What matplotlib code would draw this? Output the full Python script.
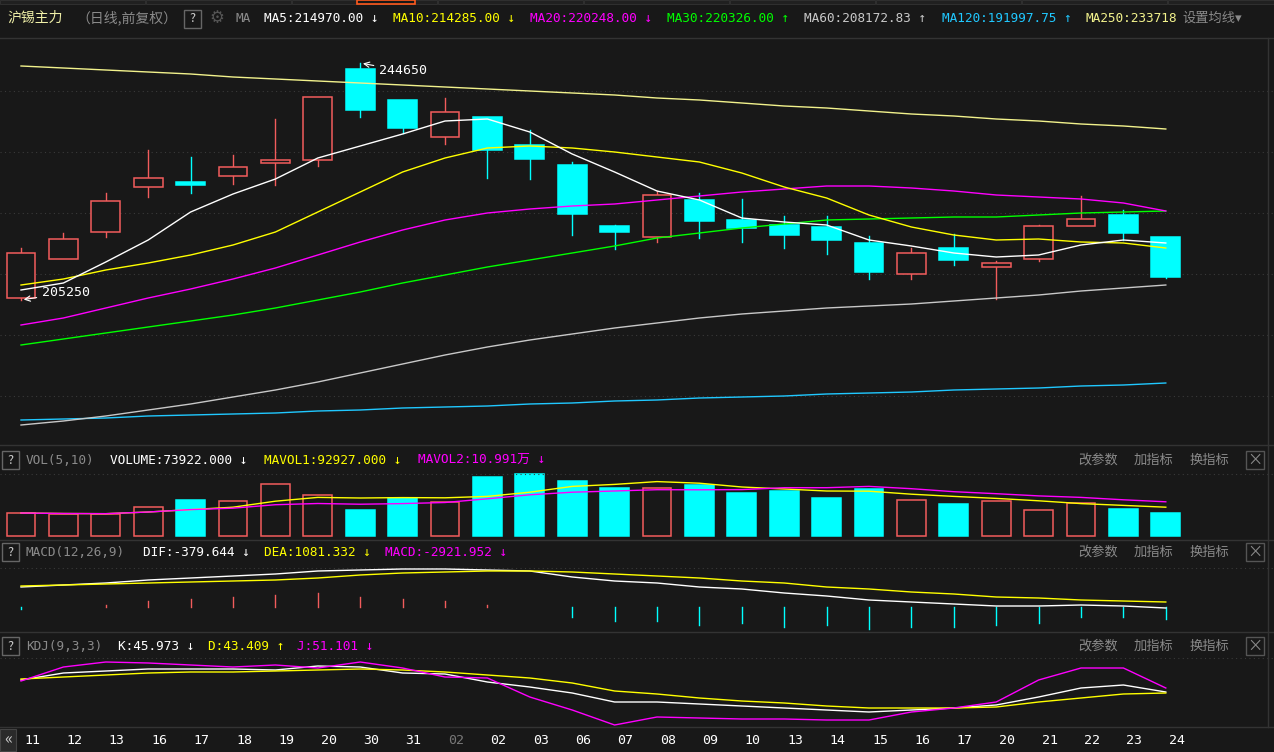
import numpy as np
import pandas as pd
import matplotlib
matplotlib.use('Agg')
import matplotlib.pyplot as plt
from matplotlib.patches import Rectangle

plt.rcParams['font.family'] = ['Noto Sans CJK SC', 'DejaVu Sans']

BG = '#181818'
RED = '#f25c5c'
CYAN = '#00ffff'
GRAY = '#8a8a8a'

dates = ['11', '12', '13', '16', '17', '18', '19', '20', '30', '31', '02', '02', '03', '06',
         '07', '08', '09', '10', '13', '14', '15', '16', '17', '20', '21', '22', '23', '24']

# price panel readings, in screen rows of the reference (converted to price below)
open_y = [298, 259, 232, 187, 182, 176, 163, 160, 69, 100, 137, 117, 145, 165,
          226, 237, 200, 220, 225, 227, 243, 274, 248, 267, 259, 226, 215, 237]
close_y = [253, 239, 201, 178, 185, 167, 160, 97, 110, 128, 112, 150, 159, 214,
           232, 195, 221, 228, 235, 240, 272, 253, 260, 263, 226, 219, 233, 277]
high_y = [248, 233, 193, 150, 157, 155, 119, 97, 63, 100, 98, 117, 130, 162,
          225, 191, 193, 199, 216, 216, 236, 248, 234, 261, 225, 196, 210, 237]
low_y = [300, 259, 237, 197, 193, 184, 185, 166, 117, 133, 144, 178, 179, 235,
         249, 242, 238, 242, 248, 254, 279, 279, 265, 299, 261, 226, 240, 278]

ma5_y = [290, 283, 262, 240, 212, 194, 179, 158, 146, 134, 121, 119, 132, 154,
         172, 191, 200, 218, 222, 225, 240, 246, 253, 257, 255, 245, 240, 243]
ma10_y = [285, 279, 270, 263, 255, 245, 232, 212, 192, 172, 158, 148, 146, 148,
          152, 157, 162, 173, 187, 198, 215, 227, 235, 240, 239, 242, 243, 248]
ma20_y = [325, 318, 308, 298, 289, 279, 268, 255, 242, 230, 220, 213, 209, 206,
          204, 200, 196, 192, 189, 186, 186, 188, 191, 195, 197, 199, 203, 211]
ma30_y = [345, 339, 333, 327, 321, 315, 308, 300, 292, 283, 275, 267, 260, 253,
          246, 238, 233, 228, 224, 220, 219, 218, 217, 217, 215, 213, 212, 211]
ma60_y = [425, 421, 416, 410, 404, 397, 390, 382, 373, 364, 355, 347, 340, 334,
          328, 323, 318, 314, 311, 308, 306, 304, 301, 298, 295, 291, 288, 285]
ma120_y = [420, 419, 418, 416, 415, 414, 413, 411, 410, 408, 407, 406, 404, 403,
           401, 400, 398, 397, 396, 394, 393, 392, 390, 389, 388, 386, 385, 383]
ma250_y = [66, 68, 70, 72, 74, 77, 79, 81, 83, 85, 87, 89, 91, 93,
           95, 98, 100, 103, 106, 108, 111, 114, 116, 119, 121, 124, 126, 129]

volume = [73800, 70600, 70600, 93100, 115600, 112400, 166900, 131600, 83500, 122000,
          109100, 189400, 199000, 176600, 154100, 154100, 163700, 138000, 144500, 122000,
          150900, 115600, 102700, 112400, 83500, 105900, 86700, 73922]

dif_y = [587, 585, 583, 580, 578, 576, 574, 571, 570, 569, 569, 570, 571, 577,
         581, 583, 587, 589, 593, 596, 600, 602, 604, 606, 606, 605, 606, 608]
dea_y = [586, 585, 584, 583, 582, 581, 580, 578, 575, 573, 572, 571, 571, 572,
         574, 576, 578, 581, 583, 587, 589, 592, 594, 597, 598, 600, 601, 602]

k_y = [680, 673, 671, 669, 669, 669, 670, 666, 667, 673, 674, 682, 687, 693,
       702, 702, 704, 706, 708, 710, 712, 710, 708, 705, 697, 688, 685, 692]
d_y = [679, 677, 675, 673, 672, 672, 671, 670, 669, 670, 672, 675, 678, 683,
       691, 694, 698, 701, 703, 706, 708, 708, 708, 707, 702, 698, 694, 693]
j_y = [681, 667, 662, 663, 665, 667, 665, 668, 662, 668, 677, 678, 697, 710,
       725, 717, 718, 719, 719, 720, 720, 712, 708, 702, 680, 668, 668, 688]


def price(y):
    return 255110 - 166.2 * np.asarray(y, dtype=float)


def macd_val(y):
    return (607 - np.asarray(y, dtype=float)) * 216


def kdj_val(y):
    return 45.973 + (692 - np.asarray(y, dtype=float)) * 1.54


W, H = 1274, 752
fig = plt.figure(figsize=(W / 100, H / 100), dpi=100, facecolor=BG)
n = len(dates)
x = np.arange(n)
x0, step = 21, 42.4
xlim = (-x0 / step, (W - x0) / step)


def panel(top, bottom, conv):
    ax = fig.add_axes([0, 1 - bottom / H, 1, (bottom - top) / H])
    ax.set_facecolor(BG)
    ax.set_xlim(*xlim)
    ax.set_ylim(conv(bottom), conv(top))
    ax.set_axis_off()
    return ax


def hline(ax, conv, y, **kw):
    ax.axhline(conv(y), **kw)


# main price panel
ax = panel(38, 445, price)
for gy in [91, 152, 213, 274, 335, 396]:
    hline(ax, price, gy, color='#3a3a3a', lw=0.8, ls=(0, (1, 3)))
o, c, h, l = price(open_y), price(close_y), price(high_y), price(low_y)
for i in x:
    up = c[i] >= o[i]
    col = RED if up else CYAN
    lo_b, hi_b = min(o[i], c[i]), max(o[i], c[i])
    ax.plot([i, i], [hi_b, h[i]], color=col, lw=1)
    ax.plot([i, i], [l[i], lo_b], color=col, lw=1)
    ax.add_patch(Rectangle((i - 0.34, lo_b), 0.68, max(hi_b - lo_b, 300),
                           facecolor=BG if up else CYAN, edgecolor=col, lw=1.1, zorder=3))
for ys, col in [(ma250_y, '#f2f28c'), (ma120_y, '#20c8ff'), (ma60_y, '#c8c8c8'),
                (ma30_y, '#00ff00'), (ma20_y, '#ff00ff'), (ma10_y, '#ffff00'), (ma5_y, 'white')]:
    ax.plot(x, price(ys), color=col, lw=1, zorder=4)
ax.annotate('244650', xy=(8, h[8]), xytext=(8.45, price(71)), color='white', fontsize=9.5,
            family='DejaVu Sans Mono', va='center',
            arrowprops=dict(arrowstyle='->', color='white', lw=0.8))
ax.annotate('205250', xy=(0, l[0]), xytext=(0.5, price(293)), color='white', fontsize=9.5,
            family='DejaVu Sans Mono', va='center',
            arrowprops=dict(arrowstyle='->', color='white', lw=0.8))

# volume panel
vconv = lambda y: (536 - np.asarray(y, dtype=float)) * 3210
axv = panel(445, 540, vconv)
hline(axv, vconv, 474, color='#3a3a3a', lw=0.8, ls=(0, (1, 3)))
vol = np.array(volume)
for i in x:
    up = c[i] >= o[i]
    axv.add_patch(Rectangle((i - 0.34, 0), 0.68, vol[i], facecolor=BG if up else CYAN,
                            edgecolor=RED if up else CYAN, lw=1.1))
vs = pd.Series(vol)
axv.plot(x, vs.rolling(5, min_periods=1).mean(), color='#ffff00', lw=1)
axv.plot(x, vs.rolling(10, min_periods=1).mean(), color='#ff00ff', lw=1)

# macd panel
axm = panel(540, 632, macd_val)
hline(axm, macd_val, 568, color='#3a3a3a', lw=0.8, ls=(0, (1, 3)))
dif, dea = macd_val(dif_y), macd_val(dea_y)
bar = 2 * (dif - dea)
for i in x:
    axm.plot([i, i], [0, bar[i]], color=RED if bar[i] > 0 else CYAN, lw=1)
axm.plot(x, dif, color='white', lw=1)
axm.plot(x, dea, color='#ffff00', lw=1)

# kdj panel
axk = panel(632, 727, kdj_val)
hline(axk, kdj_val, 658, color='#3a3a3a', lw=0.8, ls=(0, (1, 3)))
axk.plot(x, kdj_val(k_y), color='white', lw=1)
axk.plot(x, kdj_val(d_y), color='#ffff00', lw=1)
axk.plot(x, kdj_val(j_y), color='#ff00ff', lw=1)

# frame lines and labels in pixel coordinates
ov = fig.add_axes([0, 0, 1, 1])
ov.set_xlim(0, W)
ov.set_ylim(H, 0)
ov.set_axis_off()
ov.patch.set_alpha(0)
for yy in [38, 445, 540, 632, 727]:
    ov.plot([0, W], [yy, yy], color='#333333', lw=1)
ov.plot([1268, 1268], [38, 727], color='#333333', lw=1)
for xs in range(0, 1274, 146):
    ov.add_patch(Rectangle((xs, 0), 145, 4, facecolor='#202020', edgecolor='#333333', lw=0.6))
ov.add_patch(Rectangle((357, 0), 58, 4, facecolor=BG, edgecolor='#ff5a1e', lw=1.2))

mono = ['DejaVu Sans Mono', 'Noto Sans CJK SC']
fs = 9.2


def label(xp, yp, s, col, fam=mono, size=fs):
    ov.text(xp, yp, s, color=col, fontsize=size, family=fam, va='center', ha='left')


def qbox(xp, yp):
    ov.add_patch(Rectangle((xp, yp - 9), 17, 18, facecolor=BG, edgecolor='#666666', lw=1))
    ov.text(xp + 8.5, yp, '?', color='#cccccc', fontsize=9, ha='center', va='center')


label(7, 18, '沪锡主力', '#f0f0a8', fam=['Noto Sans CJK SC'], size=10)
label(76, 18, '（日线,前复权）', GRAY, fam=['Noto Sans CJK SC'], size=10)
qbox(184, 19)
label(209, 18, '⚙', '#555555', fam=['DejaVu Sans'], size=12)
label(236, 18, 'MA', GRAY)
heads = [(264, 'MA5:214970.00 ↓', 'white'), (393, 'MA10:214285.00 ↓', '#ffff00'),
         (530, 'MA20:220248.00 ↓', '#ff00ff'), (667, 'MA30:220326.00 ↑', '#00ff00'),
         (804, 'MA60:208172.83 ↑', '#c8c8c8'), (942, 'MA120:191997.75 ↑', '#20c8ff'),
         (1086, 'MA250:233718', '#f2f28c')]
for xp, s, col in heads:
    label(xp, 18, s, col)
label(1182, 18, '设置均线▾', GRAY, fam=['Noto Sans CJK SC', 'DejaVu Sans'], size=9.5)

subs = [
    (460, [(26, 'VOL(5,10)', GRAY), (110, 'VOLUME:73922.000 ↓', 'white'),
           (264, 'MAVOL1:92927.000 ↓', '#ffff00'), (418, 'MAVOL2:10.991万 ↓', '#ff00ff')]),
    (552, [(26, 'MACD(12,26,9)', GRAY), (143, 'DIF:-379.644 ↓', 'white'),
           (264, 'DEA:1081.332 ↓', '#ffff00'), (385, 'MACD:-2921.952 ↓', '#ff00ff')]),
    (646, [(26, 'KDJ(9,3,3)', GRAY), (118, 'K:45.973 ↓', 'white'),
           (208, 'D:43.409 ↑', '#ffff00'), (297, 'J:51.101 ↓', '#ff00ff')]),
]
for yp, items in subs:
    qbox(2, yp)
    for xp, s, col in items:
        label(xp, yp, s, col)
    for xp, s in [(1078, '改参数'), (1134, '加指标'), (1190, '换指标')]:
        label(xp, yp, s, GRAY, fam=['Noto Sans CJK SC'], size=9.5)
    ov.add_patch(Rectangle((1246, yp - 9), 18, 18, facecolor=BG, edgecolor='#555555', lw=1))
    ov.text(1255, yp, '×', color=GRAY, fontsize=11, ha='center', va='center')

ov.add_patch(Rectangle((0, 729), 16, 22, facecolor='#2a2a2a', edgecolor='#444444', lw=0.8))
ov.text(8, 740, '«', color='#cccccc', fontsize=12, ha='center', va='center')
for i, d in enumerate(dates):
    col = '#777777' if i == 10 else 'white'
    ov.text(x0 + step * i + 11, 741, d, color=col, fontsize=9.5, ha='center', va='center',
            family='DejaVu Sans Mono')

fig.savefig('out.png', dpi=100, facecolor=BG)
